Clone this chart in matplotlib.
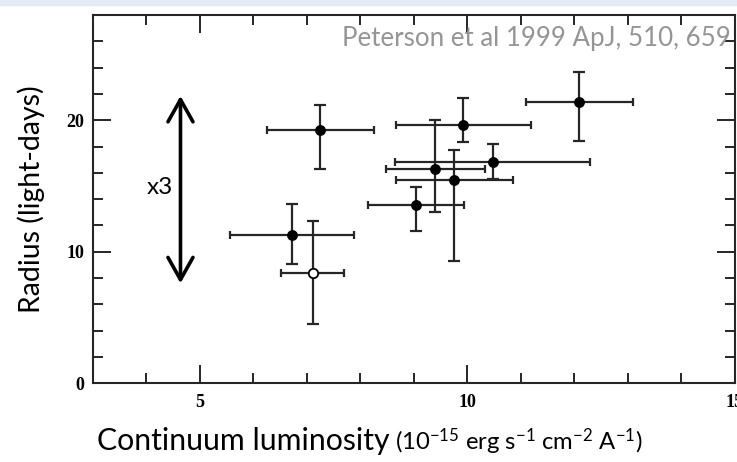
import matplotlib
matplotlib.use("Agg")
import matplotlib.pyplot as plt
from matplotlib.patches import Rectangle
from matplotlib.ticker import MultipleLocator

plt.rcParams['mathtext.fontset'] = 'custom'
plt.rcParams['mathtext.rm'] = 'Lato'
plt.rcParams['mathtext.it'] = 'Lato'

# ---- data ----
lum   = [7.25, 9.91, 12.09, 9.40, 10.47, 9.75, 9.04, 6.72]
lum_lo = [6.26, 8.66, 11.09, 8.48, 8.65, 8.66, 8.14, 5.56]
lum_hi = [8.25, 11.18, 13.09, 10.33, 12.29, 10.86, 9.94, 7.89]
rad   = [19.29, 19.67, 21.37, 16.33, 16.79, 15.44, 13.54, 11.26]
rad_lo = [16.33, 18.31, 18.40, 12.99, 15.52, 9.29, 11.59, 9.04]
rad_hi = [21.14, 21.69, 23.67, 20.05, 18.23, 17.72, 14.93, 13.60]

open_lum, open_lum_lo, open_lum_hi = [7.12], [6.51], [7.70]
open_rad, open_rad_lo, open_rad_hi = [8.36], [4.50], [12.35]

x_ticks = [5, 10, 15]
x_tick_labels = ['5', '10', '15']
y_ticks = [0, 10, 20]
y_tick_labels = ['0', '10', '20']

arrow_x = 4.64
arrow_y = [7.6, 21.85]

W, H = 737, 462
fig = plt.figure(figsize=(W/100, H/100), dpi=100)
fig.patches.append(Rectangle((0, 1 - 5/H), 1, 5/H, transform=fig.transFigure,
                             color='#e3ebf6', zorder=0))
ax = fig.add_axes([92.7/W, 1 - 383.3/H, (735 - 92.7)/W, (383.3 - 15)/H])
ax.set_xlim(3, 15)
ax.set_ylim(0, 28)

ec = '#262626'

def errs(v, lo, hi):
    return [[a - b for a, b in zip(v, lo)], [c - a for a, c in zip(v, hi)]]

# horizontal bars
ax.errorbar(lum, rad, xerr=errs(lum, lum_lo, lum_hi), fmt='none', ecolor=ec,
            elinewidth=1.6, capsize=3, capthick=1.6, zorder=2)
ax.errorbar(open_lum, open_rad, xerr=errs(open_lum, open_lum_lo, open_lum_hi),
            fmt='none', ecolor=ec, elinewidth=1.6, capsize=3, capthick=1.6, zorder=2)
# vertical bars
ax.errorbar(lum, rad, yerr=errs(rad, rad_lo, rad_hi), fmt='none', ecolor=ec,
            elinewidth=1.6, capsize=4.2, capthick=1.6, zorder=2)
ax.errorbar(open_lum, open_rad, yerr=errs(open_rad, open_rad_lo, open_rad_hi),
            fmt='none', ecolor=ec, elinewidth=1.6, capsize=4.2, capthick=1.6, zorder=2)
ax.plot(lum, rad, 'o', color='black', markersize=6.8, zorder=3)
ax.plot(open_lum, open_rad, 'o', markerfacecolor='white', markeredgecolor='black',
        markersize=6.8, markeredgewidth=1.3, zorder=3)

# double arrow
ax.annotate('', xy=(arrow_x, arrow_y[1]), xytext=(arrow_x, arrow_y[0]),
            arrowprops=dict(arrowstyle='<->,head_length=0.8,head_width=0.45',
                            lw=2.6, color='black', mutation_scale=20,
                            shrinkA=0, shrinkB=0), zorder=4)
ax.text(160/W, 1 - 188/H, 'x3', transform=fig.transFigure, ha='center', va='center',
        fontsize=17.5, family='Lato', color='black')

# axes styling
for s in ax.spines.values():
    s.set_linewidth(1.5)
    s.set_color(ec)
ax.set_xticks(x_ticks)
ax.set_yticks(y_ticks)
ax.xaxis.set_minor_locator(MultipleLocator(1))
ax.yaxis.set_minor_locator(MultipleLocator(2))
ax.tick_params(which='both', direction='in', top=True, right=True, color=ec, width=1.4)
ax.tick_params(which='major', length=13)
ax.tick_params(which='minor', length=7)
ax.tick_params(axis='x', which='major', pad=8)
ax.tick_params(axis='y', which='major', pad=6)
ax.set_xticklabels(x_tick_labels, family='Liberation Serif', fontweight='bold', fontsize=13)
ax.set_yticklabels(y_tick_labels, family='Liberation Serif', fontweight='bold', fontsize=13)

# texts
t_ref = fig.text(341.7/W, 1 - 45.7/H, 'Peterson et al 1999 ApJ, 510, 659', family='Lato',
                 color='#959595', fontsize=17, ha='left', va='baseline')
t_x1 = fig.text(97/W, 1 - 450/H, 'Continuum luminosity', family='Lato', fontsize=17,
                ha='left', va='baseline', color='black')
t_x2 = fig.text(395/W, 1 - 450/H,
                '(10$^{-15}$ erg s$^{-1}$ cm$^{-2}$ A$^{-1}$)', family='Lato', fontsize=13,
                ha='left', va='baseline', color='black')
t_y = fig.text(31/W, 1 - 199/H, 'Radius (light-days)', family='Lato', fontsize=17,
               rotation=90, ha='center', va='center', color='black')

fig.canvas.draw()
r = fig.canvas.get_renderer()
def fit(t, width, horiz=True):
    bb = t.get_window_extent(r)
    cur = bb.width if horiz else bb.height
    t.set_fontsize(t.get_fontsize() * width / cur)
fit(t_ref, 730 - 341.7)
fit(t_x1, 390 - 97)
fit(t_x2, 643 - 395)
fit(t_y, 227, horiz=False)

fig.savefig('out.png', dpi=100)
